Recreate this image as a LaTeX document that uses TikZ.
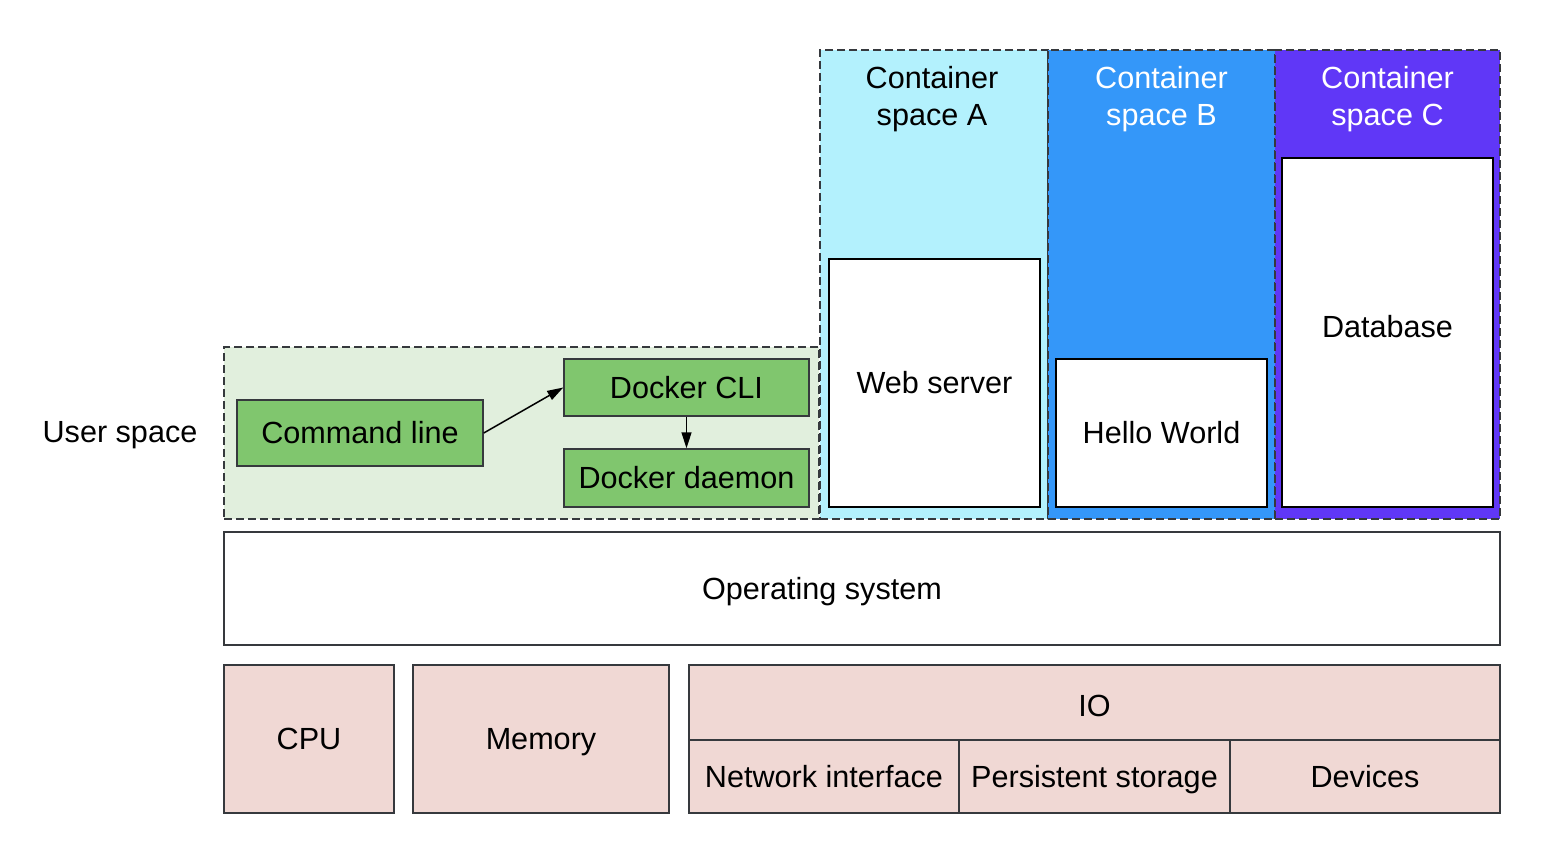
\documentclass[tikz,border=0pt]{standalone}
\usepackage{fontspec}
\setmainfont{Liberation Sans}
\usetikzlibrary{positioning, arrows.meta, calc}
\definecolor{usergreen}{HTML}{E1EFDD}
\definecolor{boxgreen}{HTML}{80C66E}
\definecolor{cyanA}{HTML}{B3F1FD}
\definecolor{blueB}{HTML}{3497F9}
\definecolor{purpleC}{HTML}{6037F7}
\definecolor{hwpink}{HTML}{F0D8D4}
\definecolor{edgegray}{HTML}{36393D}
\tikzset{every picture/.append style={thick}}

\begin{document}
\begin{tikzpicture}[x=0.5pt, y=-0.5pt,
    every node/.style={font=\fontsize{15.3}{18.5}\selectfont, inner sep=0pt, text height=13.5pt, text depth=2.8pt},
    space/.style={draw=edgegray, line width=0.75pt, dash pattern=on 4pt off 2pt},
    title/.style={align=center, text height=, text depth=},
    proc/.style={draw=edgegray, fill=boxgreen, line width=0.75pt},
    app/.style={draw=black, fill=white, line width=1pt},
    hw/.style={draw=edgegray, fill=hwpink, line width=0.75pt}]
    \useasboundingbox (0,0) rectangle (1554,852);
    % container spaces
    \node[space, fill=cyanA, minimum width=114pt, minimum height=234.5pt] (contA) at (934,284.5) {};
    \node[space, fill=blueB, minimum width=113.5pt, minimum height=234.5pt] (contB) at (1161.5,284.5) {};
    \node[space, fill=purpleC, minimum width=112.5pt, minimum height=234.5pt] (contC) at (1387.5,284.5) {};
    \node[title] (titleA) at (932,99) {Container\\space A};
    \node[title, text=white] (titleB) at (1161.5,99) {Container\\space B};
    \node[title, text=white] (titleC) at (1387.5,99) {Container\\space C};
    \node[app, minimum width=105.5pt, minimum height=124pt] (web) at (934.5,383) {Web server};
    \node[app, minimum width=105.5pt, minimum height=74pt] (hello) at (1161.5,433) {Hello World};
    \node[app, minimum width=105.5pt, minimum height=174.5pt] (db) at (1387.5,332.5) {};
    \node (dbtext) at (1387.5,327) {Database};
    % user space
    \node[space, fill=usergreen, minimum width=297.5pt, minimum height=86pt] (user) at (521.5,433) {};
    \node (userlabel) at (120,432) {User space};
    \node[proc, minimum width=123pt, minimum height=33pt] (cmd) at (360,433) {Command line};
    \node[proc, minimum width=122.5pt, minimum height=28.5pt] (cli) at (686.5,387.5) {Docker CLI};
    \node[proc, minimum width=122.5pt, minimum height=29pt] (daemon) at (686.5,478) {Docker daemon};
    \draw[->, >={Triangle[length=8pt, width=5pt]}, line width=0.75pt] (cmd.east) -- (cli.west);
    \draw[->, >={Triangle[length=8pt, width=5pt]}, line width=0.75pt] (cli.south) -- (daemon.north);
    % operating system and hardware
    \node[draw=edgegray, fill=white, line width=0.75pt, minimum width=638pt, minimum height=56.5pt] (os) at (862,588.5) {};
    \node (ostext) at (822,589) {Operating system};
    \node[hw, minimum width=85pt, minimum height=74pt] (cpu) at (309,739) {CPU};
    \node[hw, minimum width=128pt, minimum height=74pt] (mem) at (541,739) {Memory};
    \node[hw, minimum width=405.5pt, minimum height=37.5pt] (io) at (1094.5,702.5) {};
    \node (iotext) at (1094.5,706) {IO};
    \node[hw, minimum width=135pt, minimum height=36.5pt] (net) at (824,776.5) {Network interface};
    \node[hw, minimum width=135.5pt, minimum height=36.5pt] (pers) at (1094.5,776.5) {Persistent storage};
    \node[hw, minimum width=135pt, minimum height=36.5pt] (dev) at (1365,776.5) {Devices};
\end{tikzpicture}
\end{document}
